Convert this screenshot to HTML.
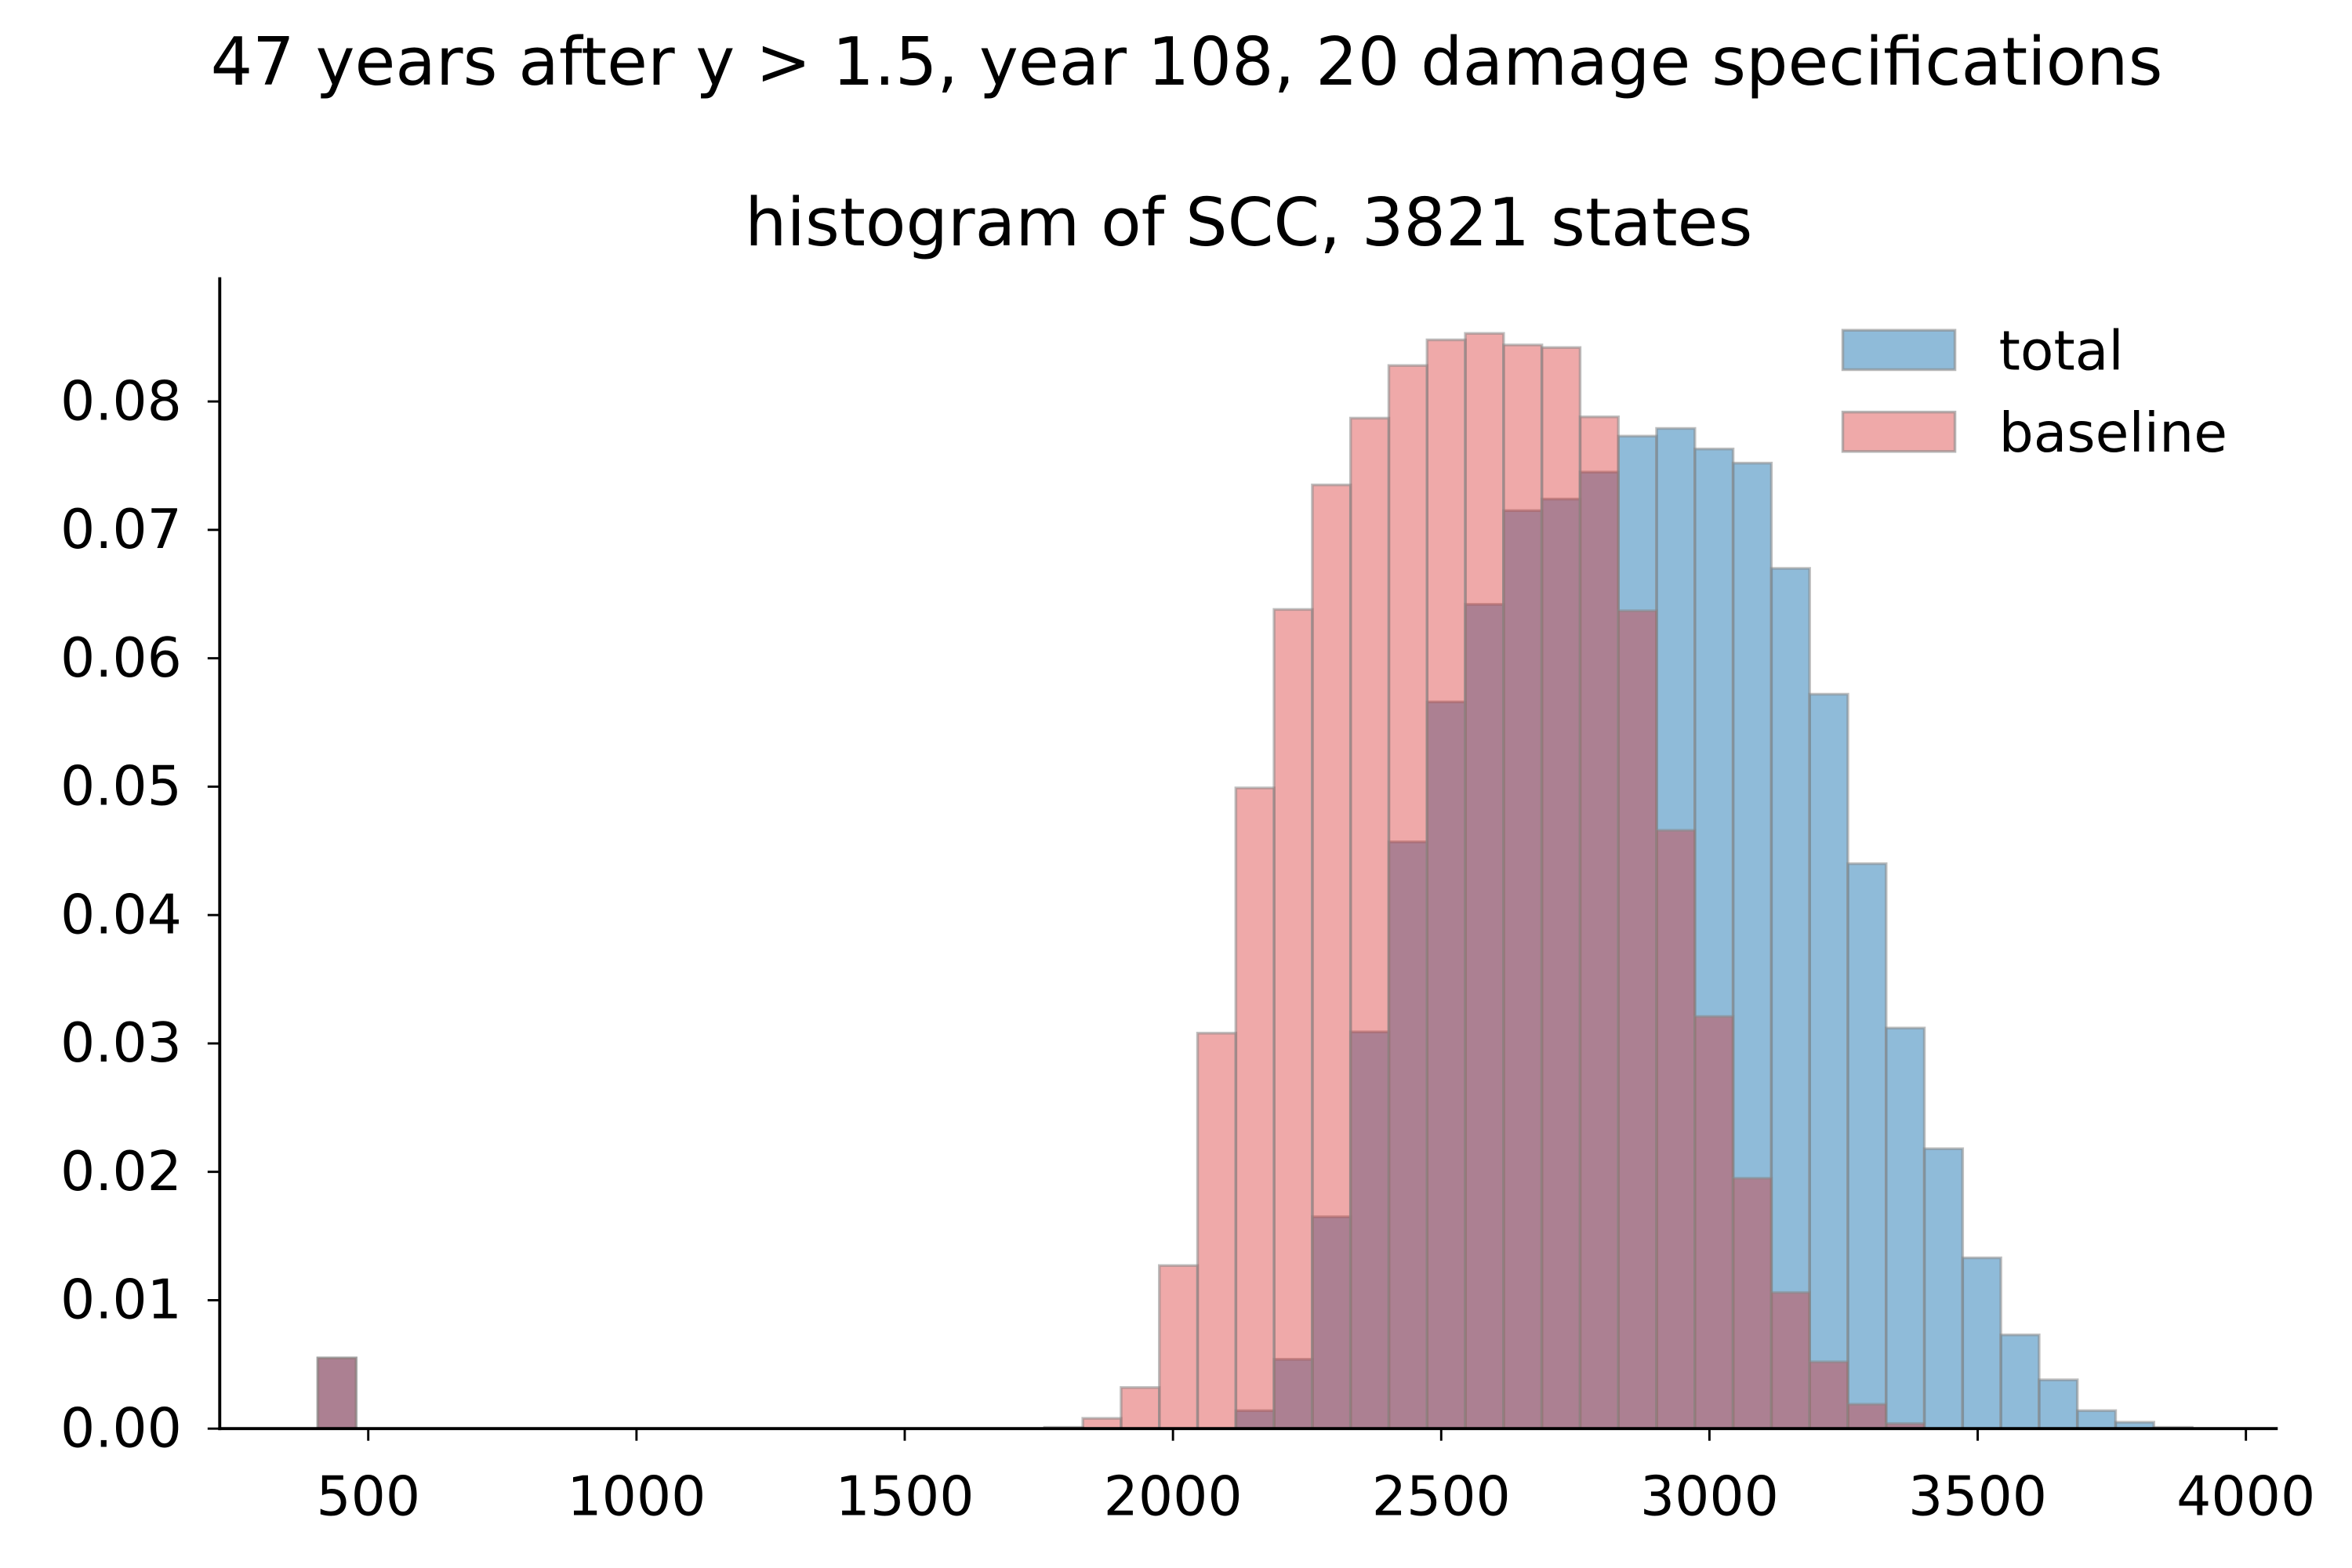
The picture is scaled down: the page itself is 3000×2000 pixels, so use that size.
<!DOCTYPE html>
<html><head><meta charset="utf-8"><style>
html,body{margin:0;padding:0;background:#fff;}
svg{display:block;font-family:"DejaVu Sans","Liberation Sans",sans-serif;}
</style></head><body>
<svg id="chart" width="3000" height="2000" viewBox="0 0 1552 1035" preserveAspectRatio="none" xmlns="http://www.w3.org/2000/svg">
<rect width="1552" height="1035" fill="#fff"/>
<text x="783" y="56" font-size="43.6" text-anchor="middle">47 years after y &gt; 1.5, year 108, 20 damage specifications</text>
<text x="824" y="162" font-size="43.6" text-anchor="middle">histogram of SCC, 3821 states</text>
<g id="bars"></g>
<g id="axes"></g>
<g>
<rect x="1216" y="218" width="74" height="26" fill="#1f77b4" fill-opacity="0.5" stroke="#888" stroke-opacity="0.6" stroke-width="1.8"/>
<text x="1319" y="244" font-size="36">total</text>
<rect x="1216" y="272" width="74" height="26" fill="#d62728" fill-opacity="0.4" stroke="#888" stroke-opacity="0.6" stroke-width="1.8"/>
<text x="1319" y="298" font-size="36">baseline</text>
</g>
</svg>
<script>
const binStart = 406;
const binWidth = 71.3;
const totalValues = [0.0055,0,0,0,0,0,0,0,0,0,0,0,0,0,0,0,0,0,0,0.0001,0,0,0,0,0.0014,0.0054,0.0165,0.0309,0.0457,0.0566,0.0642,0.0715,0.0724,0.0745,0.0773,0.0779,0.0763,0.0752,0.0670,0.0572,0.0440,0.0312,0.0218,0.0133,0.0073,0.0038,0.0014,0.0005,0.0001];
const baselineValues = [0.0055,0,0,0,0,0,0,0,0,0,0,0,0,0,0,0,0,0,0,0,0.0008,0.0032,0.0127,0.0308,0.0499,0.0638,0.0735,0.0787,0.0828,0.0848,0.0853,0.0844,0.0842,0.0788,0.0637,0.0466,0.0321,0.0195,0.0106,0.0052,0.0019,0.0004];
const xTicks = [500,1000,1500,2000,2500,3000,3500,4000];
const yTicks = [0,0.01,0.02,0.03,0.04,0.05,0.06,0.07,0.08];
const yTickLabels = ["0.00","0.01","0.02","0.03","0.04","0.05","0.06","0.07","0.08"];

const NS = "http://www.w3.org/2000/svg";
function xs(v){ return 243 + (v - 500) * (177/500); }
function ys(v){ return 943 - v * 8475; }
const bars = document.getElementById('bars');
function drawSeries(vals, fill, op, name){
  vals.forEach((v,i)=>{
    if(v<=0) return;
    const x0 = xs(binStart + i*binWidth), x1 = xs(binStart + (i+1)*binWidth);
    const r = document.createElementNS(NS,'rect');
    r.setAttribute('x', x0); r.setAttribute('width', x1-x0);
    r.setAttribute('y', ys(v)); r.setAttribute('height', ys(0)-ys(v));
    r.setAttribute('fill', fill); r.setAttribute('fill-opacity', op);
    r.setAttribute('stroke', '#888'); r.setAttribute('stroke-opacity', '0.55'); r.setAttribute('stroke-width','1.8');
    
    
    bars.appendChild(r);
  });
}
drawSeries(totalValues, '#1f77b4', 0.5, 'total');
drawSeries(baselineValues, '#d62728', 0.4, 'baseline');

const axes = document.getElementById('axes');
function line(x1,y1,x2,y2,w,name){
  const l = document.createElementNS(NS,'line');
  l.setAttribute('x1',x1);l.setAttribute('y1',y1);l.setAttribute('x2',x2);l.setAttribute('y2',y2);
  l.setAttribute('stroke','#000');l.setAttribute('stroke-width',w);
  
  
  axes.appendChild(l);
}
function text(x,y,s,anchor,name){
  const t = document.createElementNS(NS,'text');
  t.setAttribute('x',x);t.setAttribute('y',y);t.setAttribute('font-size','36');
  t.setAttribute('text-anchor',anchor);t.textContent=s;
  
  
  axes.appendChild(t);
}
line(145,183,145,944,2,'y-axis-spine');
line(144,943,1503,943,2,'x-axis-spine');
xTicks.forEach(v=>{
  line(xs(v),943,xs(v),951,1.5,'x-tick-'+v);
  text(xs(v),1000,String(v),'middle','x-tick-label-'+v);
});
yTicks.forEach((v,i)=>{
  line(137,ys(v),145,ys(v),1.5,'y-tick-'+i);
  text(120,ys(v)+12,yTickLabels[i],'end','y-tick-label-'+i);
});
</script>
</body></html>
